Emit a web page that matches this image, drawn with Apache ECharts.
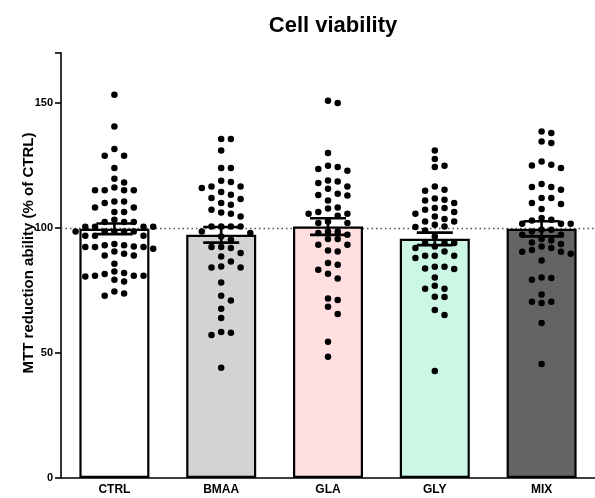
<!DOCTYPE html>
<html><head><meta charset="utf-8">
<script src="https://cdn.jsdelivr.net/npm/echarts@6/dist/echarts.min.js"></script>
<style>html,body{margin:0;padding:0;background:#fff}#c{width:595px;height:498px}</style>
</head><body><div id="c"></div>
<script>
const categories = ['CTRL', 'BMAA', 'GLA', 'GLY', 'MIX'];
const barColors = ['#ffffff', '#d3d3d3', '#ffdfdf', '#ccf7e5', '#646464'];
const means = [99.6, 97.2, 100.5, 95.6, 99.6];
const sems = [2.1, 3.1, 3.3, 2.5, 3.0];
const yTicks = [0, 50, 100, 150];

const ctrlValues = [153.2, 140.5, 131.5, 128.8, 128.8, 123.9, 119.6, 118.1, 115, 115, 115, 115, 116.1,
  110.5, 110.5, 109.9, 108.1, 106.3, 108.1, 106.3, 103.2, 102.3, 102.3, 102.3, 100.4, 100.4, 100.4, 100.4,
  98.5, 98.5, 98.5, 98.5, 98.5, 96.8, 96.8, 96.8, 92.5, 93, 92.3, 91.6, 93, 92.3, 92.3, 93.5,
  88.9, 88.9, 89.6, 90.5, 85.6, 80.8, 81.9, 82.5, 80.8, 80.5, 81.5, 80.8, 79.2, 78.5, 72.8, 74.5, 73.7];
const bmaaValues = [135.5, 135.5, 130.9, 123.9, 123.9, 118.3, 118.8, 116.5, 115.9, 116.5, 113.2, 114.3,
  111.9, 111.5, 109.2, 109.9, 107.2, 104.5, 105.6, 106.1, 100.5, 100.5, 100.5, 100.5, 97.9, 98.5, 96.5,
  95.2, 92.3, 91.9, 92.3, 88.5, 89.9, 86.5, 84.1, 84.1, 84.5, 78.1, 72.8, 70.9, 67.7, 64, 58.1, 57.2, 58.4, 44.1];
const glaValues = [149.9, 150.8, 129.9, 124.3, 123.5, 124.8, 122.8, 117.9, 115.6, 118.9, 116.5, 118.5,
  113.1, 110.9, 112.9, 113.6, 106.3, 108.1, 107.7, 105.6, 105.6, 101.9, 101.9, 104.8, 102.5, 97.9, 98.5,
  98.5, 97.2, 95.5, 95.5, 93.2, 93.2, 90.5, 90.9, 85.9, 85.2, 83.2, 79.7, 81.6, 71.1, 71.7, 68.5, 65.6, 54.5, 48.5];
const glyValues = [130.9, 127.5, 124.3, 124.8, 116.5, 114.8, 115.2, 111.2, 110.9, 111.7, 109.9, 107.2,
  107.9, 107.9, 105.6, 103.5, 104.5, 102.5, 106.3, 102.5, 101.2, 100.5, 100.3, 98.9, 96.5, 93.9, 93.9,
  93.9, 91.9, 92.5, 88.8, 87.9, 90.5, 88.8, 88.8, 83.5, 83.7, 84.4, 84.4, 80.1, 75.6, 75.6, 76.8, 72.4,
  72.3, 67.2, 65.2, 42.8];
const mixValues = [138.5, 137.9, 133.9, 134.5, 126.5, 123.9, 125.2, 124.9, 116.3, 117.5, 115.2, 116.3,
  111.9, 111.9, 109.5, 109.9, 107.5, 103.9, 102.9, 101.6, 101.6, 101.6, 103.2, 98.5, 99.2, 99.2, 97.2,
  97.2, 94.9, 95.5, 94.1, 93.5, 92.5, 91.9, 91.1, 90.4, 90.4, 89.6, 86.9, 79.9, 80.1, 79.2, 73.3, 70.5,
  70.5, 70, 62, 45.6];
const groups = [ctrlValues, bmaaValues, glaValues, glyValues, mixValues];

const FONT = 'Liberation Sans, Arial, Helvetica, sans-serif';
const chart = echarts.init(document.getElementById('c'), null, {renderer: 'canvas'});

const option = {
  animation: false,
  backgroundColor: '#ffffff',
  title: {
    text: 'Cell viability', left: 328, top: 10, textAlign: 'center',
    textStyle: {fontFamily: FONT, fontWeight: 'bold', fontSize: 22, color: '#000'}
  },
  graphic: [{
    type: 'text', x: 29, y: 253, rotation: Math.PI / 2,
    style: {text: 'MTT reduction ability (% of CTRL)', fontFamily: FONT, fontWeight: 'bold', fontSize: 15,
      fill: '#000', align: 'center', verticalAlign: 'middle'}
  }],
  grid: {left: 61, right: -10, top: 52.7, bottom: 20, containLabel: false},
  xAxis: [{
    type: 'category', data: categories,
    axisLine: {onZero: false, lineStyle: {color: '#000', width: 1.6}},
    axisTick: {alignWithLabel: true, length: 5, lineStyle: {color: '#000', width: 1.6}},
    axisLabel: {fontFamily: FONT, fontWeight: 'bold', fontSize: 12, color: '#000', margin: 6}
  }, {
    type: 'value', min: -0.5, max: 4.5, show: false
  }],
  yAxis: {
    type: 'value', min: 0, max: 170, interval: 50,
    axisLine: {show: true, onZero: false, lineStyle: {color: '#000', width: 1.6}},
    axisTick: {show: true, length: 6, lineStyle: {color: '#000', width: 1.6}},
    axisLabel: {fontFamily: FONT, fontWeight: 'bold', fontSize: 11, color: '#000', margin: 8,
      formatter: v => yTicks.includes(v) ? String(v) : ''},
    splitLine: {show: false}
  },
  series: [{
    type: 'bar', xAxisIndex: 0, barWidth: 70, z: 2,
    data: means.map((m, i) => ({value: m, itemStyle: {color: barColors[i], borderColor: '#000', borderWidth: 2.2}})),
    markLine: {
      silent: true, symbol: 'none', z: 1, label: {show: false},
      lineStyle: {type: [1.5, 3], color: '#555', width: 1.4},
      data: [{yAxis: 100}]
    }
  }, {
    type: 'scatter', xAxisIndex: 1, z: 3, symbolSize: 6.5,
    itemStyle: {color: '#000', opacity: 1}, data: []
  }, {
    type: 'custom', xAxisIndex: 0, z: 4,
    data: means.map((m, i) => [i, m - sems[i], m + sems[i]]),
    encode: {x: 0, y: [1, 2]},
    renderItem: function (params, api) {
      const x = api.value(0);
      const lo = api.coord([x, api.value(1)]);
      const hi = api.coord([x, api.value(2)]);
      const hw = 18;
      const st = {stroke: '#000', lineWidth: 2.6};
      return {type: 'group', children: [
        {type: 'line', shape: {x1: lo[0], y1: lo[1], x2: hi[0], y2: hi[1]}, style: st},
        {type: 'line', shape: {x1: lo[0] - hw, y1: lo[1], x2: lo[0] + hw, y2: lo[1]}, style: st},
        {type: 'line', shape: {x1: hi[0] - hw, y1: hi[1], x2: hi[0] + hw, y2: hi[1]}, style: st}
      ]};
    }
  }]
};
chart.setOption(option);

// beeswarm layout computed from the values
const band = chart.convertToPixel({xAxisIndex: 1}, 1) - chart.convertToPixel({xAxisIndex: 1}, 0);
const pxPerUnit = chart.convertToPixel({yAxisIndex: 0}, 0) - chart.convertToPixel({yAxisIndex: 0}, 1);
const step = 9.7, diam = 7.5;
function swarm(values) {
  const placed = [];
  const sorted = values.slice().sort((a, b) => b - a);
  for (const v of sorted) {
    const y = v * pxPerUnit;
    let best = null;
    for (let k = 0; k < 60 && best === null; k++) {
      const cands = k === 0 ? [0] : [k * step / 2, -k * step / 2];
      for (const x of cands) {
        if (placed.every(p => Math.abs(p.x - x) >= step - 0.01 || Math.abs(p.y - y) >= diam)) { best = x; break; }
      }
    }
    placed.push({x: best, y: y, v: v});
  }
  return placed;
}
const pts = [];
groups.forEach((vals, i) => {
  swarm(vals).forEach(p => pts.push([i + p.x / band, p.v]));
});
chart.setOption({series: [{}, {data: pts}, {}]});
</script>
</body></html>
